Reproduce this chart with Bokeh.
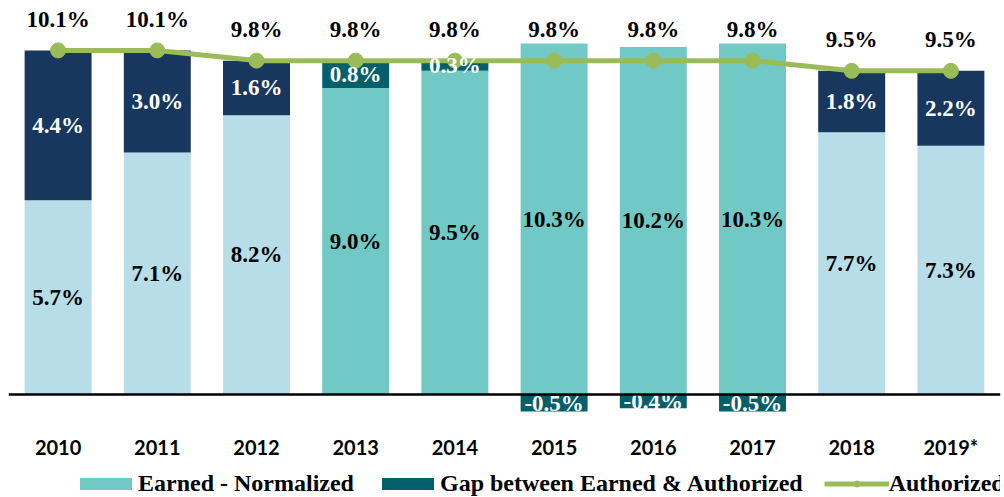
from bokeh.plotting import figure
from bokeh.layouts import column
from bokeh.models import ColumnDataSource, Range1d, Span, Legend, LegendItem
from bokeh.core.properties import value
from bokeh.embed import file_html
from bokeh.resources import INLINE

# ---- data ----
years = ["2010", "2011", "2012", "2013", "2014", "2015", "2016", "2017", "2018", "2019*"]
earned = [5.7, 7.1, 8.2, 9.0, 9.5, 10.3, 10.2, 10.3, 7.7, 7.3]
gap = [4.4, 3.0, 1.6, 0.8, 0.3, -0.5, -0.4, -0.5, 1.8, 2.2]
authorized = [10.1, 10.1, 9.8, 9.8, 9.8, 9.8, 9.8, 9.8, 9.5, 9.5]
highlight_years = ["2013", "2014", "2015", "2016", "2017"]

# ---- styles ----
LIGHT = "#b7dee8"
TEAL = "#70c9c5"
NAVY = "#17375e"
DTEAL = "#03606a"
GREEN = "#9bbb59"
SERIF = "Liberation Serif"

earned_colors = [TEAL if y in highlight_years else LIGHT for y in years]
gap_colors = [DTEAL if y in highlight_years else NAVY for y in years]
gap_bottom = [e if g >= 0 else g for e, g in zip(earned, gap)]
gap_top = [e + g if g >= 0 else 0 for e, g in zip(earned, gap)]

src = ColumnDataSource(dict(
    year=years,
    earned=earned,
    earned_mid=[e / 2 for e in earned],
    earned_lbl=[f"{e:.1f}%" for e in earned],
    ecol=earned_colors,
    gbot=gap_bottom,
    gtop=gap_top,
    gmid=[(b + t) / 2 for b, t in zip(gap_bottom, gap_top)],
    gap_lbl=[f"{g:.1f}%" for g in gap],
    gcol=gap_colors,
    auth=authorized,
    auth_lbl=[f"{a:.1f}%" for a in authorized],
))


def draw_series(fig):
    re = fig.vbar(x="year", top="earned", bottom=0, width=0.675, fill_color="ecol",
                  line_color=None, source=src)
    rg = fig.vbar(x="year", top="gtop", bottom="gbot", width=0.675, fill_color="gcol",
                  line_color=None, source=src)
    rl = fig.line(x="year", y="auth", line_color=GREEN, line_width=5, source=src)
    rp = fig.scatter(x="year", y="auth", size=15, fill_color=GREEN, line_color=GREEN,
                     source=src)
    return re, rg, rl, rp


# ---- main chart ----
p = figure(x_range=years, y_range=Range1d(-0.763, 11.33),
           frame_width=992, frame_height=412,
           output_backend="svg", toolbar_location=None,
           min_border_left=8, min_border_right=4, min_border_top=8, min_border_bottom=40)
p.outline_line_color = None
p.xgrid.visible = False
p.ygrid.visible = False
p.yaxis.visible = False
p.xaxis.axis_line_color = None
p.xaxis.major_tick_line_color = None
p.xaxis.minor_tick_line_color = None
p.xaxis.major_tick_out = 0
p.xaxis.major_label_text_font = "Lato"
p.xaxis.major_label_text_font_style = "bold"
p.xaxis.major_label_text_font_size = "20px"
p.xaxis.major_label_text_color = "black"
p.xaxis.major_label_standoff = 14

draw_series(p)
p.add_layout(Span(location=0, dimension="width", line_color="black", line_width=2.5))

common = dict(text_font=value(SERIF), text_font_style="bold", text_font_size="23px",
              text_align="center", text_baseline="middle", source=src)
p.text(x="year", y="earned_mid", text="earned_lbl", text_color="black", **common)
p.text(x="year", y="gmid", text="gap_lbl", text_color="white", **common)
p.text(x="year", y="auth", text="auth_lbl", text_color="black", y_offset=-31, **common)

# ---- legend strip (same series, view range set away from the data) ----
pl = figure(x_range=p.x_range, y_range=Range1d(1000, 1001), width=1004, height=37,
            output_backend="svg", toolbar_location=None,
            min_border_left=0, min_border_right=0, min_border_top=0, min_border_bottom=0)
pl.outline_line_color = None
pl.xgrid.visible = False
pl.ygrid.visible = False
pl.xaxis.visible = False
pl.yaxis.visible = False
le, lg, ll, lp = draw_series(pl)

legend = Legend(items=[
    LegendItem(label="Earned - Normalized", renderers=[le], index=3),
    LegendItem(label="Gap between Earned & Authorized", renderers=[lg], index=3),
    LegendItem(label="Authorized", renderers=[ll, lp]),
], orientation="horizontal", location=(65, 1))
legend.label_text_font = SERIF
legend.label_text_font_style = "bold"
legend.label_text_font_size = "24px"
legend.label_text_color = "black"
legend.glyph_width = 65
legend.glyph_height = 15
legend.label_standoff = 0
legend.spacing = 21
legend.padding = 0
legend.margin = 0
legend.border_line_color = None
legend.background_fill_alpha = 0
pl.add_layout(legend, "center")

layout = column(p, pl, spacing=0)
open("out.html", "w").write(file_html(layout, INLINE))
